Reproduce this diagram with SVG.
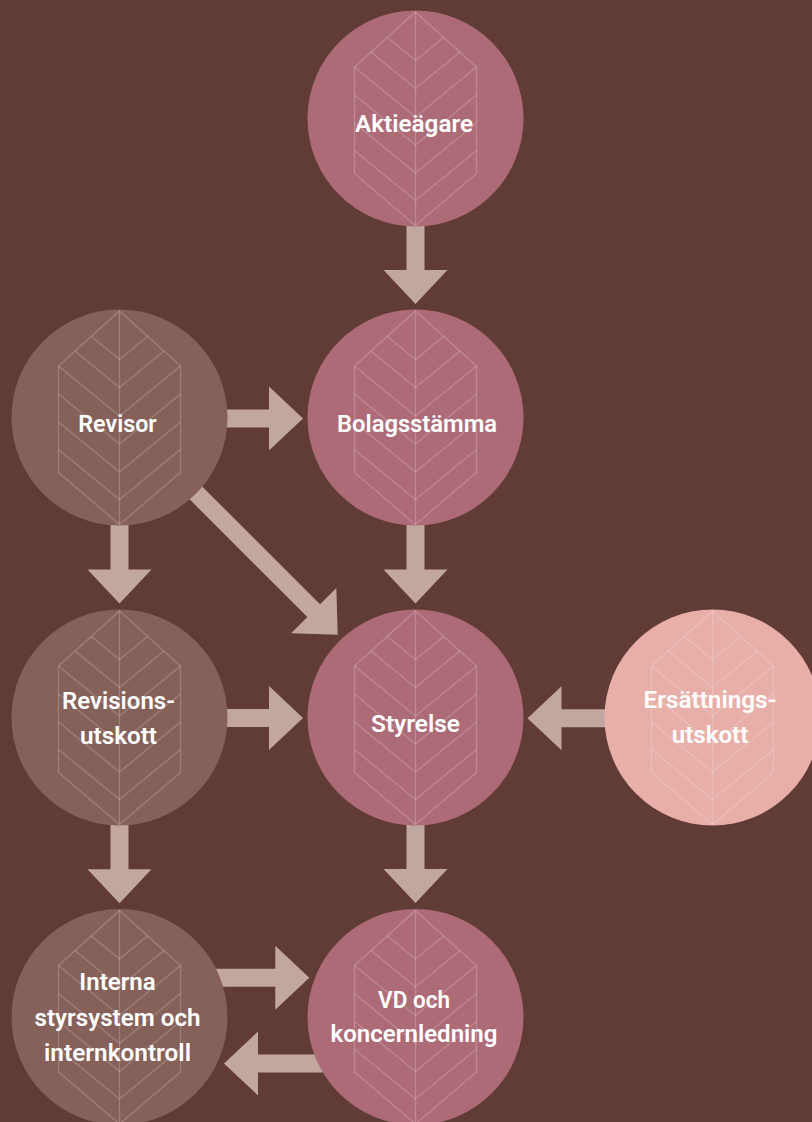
<svg xmlns="http://www.w3.org/2000/svg" xmlns:xlink="http://www.w3.org/1999/xlink" width="812" height="1122" viewBox="0 0 812 1122">
<style>
.bg{fill:#613B35}
.arrow{fill:#C1A7A0}
.pink{fill:#AD6B78}
.brown{fill:#86615A}
.light{fill:#E8AEA8}
.leaf{fill:none;stroke:#FFFFFF;stroke-opacity:0.2;stroke-width:1.3;stroke-linejoin:miter}
.label{font-family:Roboto,"Liberation Sans",sans-serif;font-weight:600;font-size:24px;fill:#FFFFFF;text-anchor:middle}
</style>
<defs>
<g id="leaf" class="leaf">
<path d="M0 -106.5 L61 -51.5 L61 55 L0 107 L-61 55 L-61 -51.5 Z"/>
<path d="M0 -106.5 V107"/>
<path d="M-28.2 -81.1 L0 -58 L28.2 -81.1"/>
<path d="M-44.5 -66.5 L0 -30 L44.5 -66.5"/>
<path d="M-61 -51.5 L0 -1.5 L61 -51.5"/>
<path d="M-61 -23.5 L0 26.5 L61 -23.5"/>
<path d="M-61 4.5 L0 54.5 L61 4.5"/>
<path d="M-61 32 L0 82 L61 32"/>
</g>
</defs>
<rect class="bg" x="0" y="0" width="812" height="1122"/>
<g id="connectors">
<path class="arrow" d="M406.5 215 V270 H383.5 L415.5 304 L447.5 270 H424.5 V215 Z"/>
<path class="arrow" d="M406.5 515 V569.5 H383.5 L415.5 603.5 L447.5 569.5 H424.5 V515 Z"/>
<path class="arrow" d="M406.5 815 V869 H383.5 L415.5 903 L447.5 869 H424.5 V815 Z"/>
<path class="arrow" d="M110.5 515 V569.5 H87.5 L119.5 603.5 L151.5 569.5 H128.5 V515 Z"/>
<path class="arrow" d="M110.5 815 V869.3 H87.5 L119.5 903.3 L151.5 869.3 H128.5 V815 Z"/>
<path class="arrow" d="M215 409.5 H269 V386.5 L303 418.5 L269 450.5 V427.5 H215 Z"/>
<path class="arrow" d="M215 709 H269 V686 L303 718 L269 750 V727 H215 Z"/>
<path class="arrow" d="M210 968.7 H275.3 V945.7 L309.3 977.7 L275.3 1009.7 V986.7 H210 Z"/>
<path class="arrow" d="M615 709.3 H561.5 V686.3 L527.5 718.3 L561.5 750.3 V727.3 H615 Z"/>
<path class="arrow" d="M330 1054.5 H258 V1031.5 L224 1063.5 L258 1095.5 V1072.5 H330 Z"/>
<path class="arrow" transform="translate(185 482) rotate(45)" d="M0 -9 H182 V-32 L216 0 L182 32 V9 H0 Z"/>
</g>
<g id="node-aktieagare">
<circle class="pink" cx="415.5" cy="118.5" r="108"/>
<use xlink:href="#leaf" href="#leaf" transform="translate(415.5 118.5)"/>
<text class="label" x="414" y="132" textLength="118" lengthAdjust="spacingAndGlyphs">Aktieägare</text>
</g>
<g id="node-revisor">
<circle class="brown" cx="119.5" cy="417.5" r="108"/>
<use xlink:href="#leaf" href="#leaf" transform="translate(119.5 417.5)"/>
<text class="label" x="117.5" y="431.5" textLength="78.4" lengthAdjust="spacingAndGlyphs">Revisor</text>
</g>
<g id="node-bolagsstamma">
<circle class="pink" cx="415.5" cy="417.5" r="108"/>
<use xlink:href="#leaf" href="#leaf" transform="translate(415.5 417.5)"/>
<text class="label" x="417" y="431.5" textLength="160" lengthAdjust="spacingAndGlyphs">Bolagsstämma</text>
</g>
<g id="node-revisionsutskott">
<circle class="brown" cx="119.5" cy="717.5" r="108"/>
<use xlink:href="#leaf" href="#leaf" transform="translate(119.5 717.5)"/>
<text class="label" x="118.5" y="708.5" textLength="113" lengthAdjust="spacingAndGlyphs">Revisions-</text>
<text class="label" x="118.5" y="743.5" textLength="77" lengthAdjust="spacingAndGlyphs">utskott</text>
</g>
<g id="node-styrelse">
<circle class="pink" cx="415.5" cy="717.5" r="108"/>
<use xlink:href="#leaf" href="#leaf" transform="translate(415.5 717.5)"/>
<text class="label" x="415.5" y="731.5" textLength="89" lengthAdjust="spacingAndGlyphs">Styrelse</text>
</g>
<g id="node-ersattningsutskott">
<circle class="light" cx="712.5" cy="717.5" r="108"/>
<use xlink:href="#leaf" href="#leaf" transform="translate(712.5 717.5)"/>
<text class="label" x="710" y="708.3" textLength="133" lengthAdjust="spacingAndGlyphs">Ersättnings-</text>
<text class="label" x="710" y="743.3" textLength="76.7" lengthAdjust="spacingAndGlyphs">utskott</text>
</g>
<g id="node-interna">
<circle class="brown" cx="119.5" cy="1017" r="108"/>
<use xlink:href="#leaf" href="#leaf" transform="translate(119.5 1017)"/>
<text class="label" x="117.5" y="990" textLength="76.4" lengthAdjust="spacingAndGlyphs">Interna</text>
<text class="label" x="117.5" y="1025.5" textLength="166" lengthAdjust="spacingAndGlyphs">styrsystem och</text>
<text class="label" x="117.5" y="1060.5" textLength="147" lengthAdjust="spacingAndGlyphs">internkontroll</text>
</g>
<g id="node-vd">
<circle class="pink" cx="415.5" cy="1017" r="108"/>
<use xlink:href="#leaf" href="#leaf" transform="translate(415.5 1017)"/>
<text class="label" x="414" y="1007.7" textLength="72" lengthAdjust="spacingAndGlyphs">VD och</text>
<text class="label" x="414" y="1042.3" textLength="167" lengthAdjust="spacingAndGlyphs">koncernledning</text>
</g>
</svg>
